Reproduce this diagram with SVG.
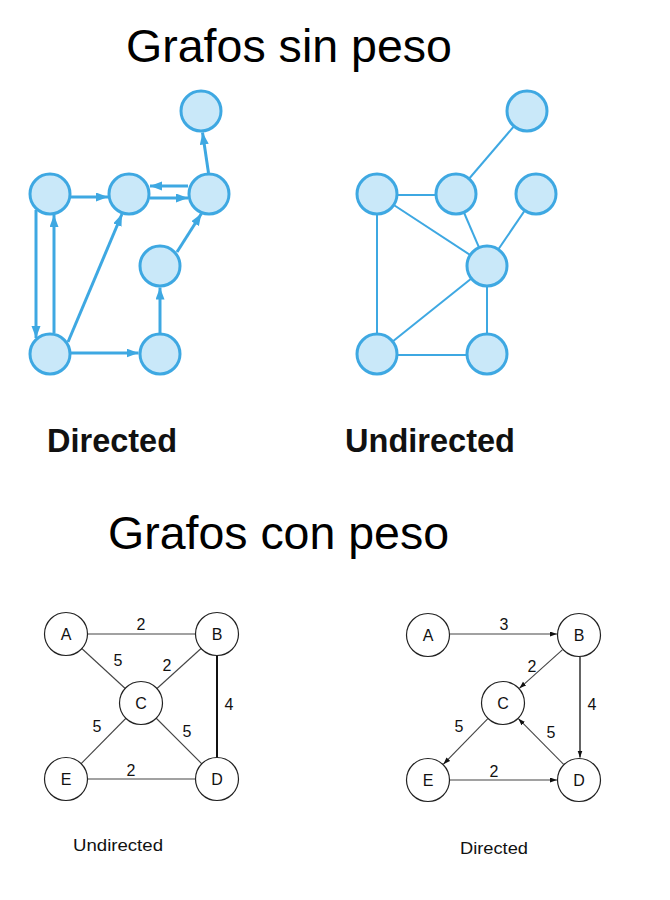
<svg xmlns="http://www.w3.org/2000/svg" width="670" height="900" viewBox="0 0 670 900">
<style>
.title{font-family:"Liberation Sans",Arial,sans-serif;font-size:47px;fill:#000}
.sub{font-family:"Liberation Sans",Arial,sans-serif;font-size:33px;font-weight:bold;fill:#111}
.small{font-family:"Liberation Sans",Arial,sans-serif;font-size:17px;fill:#111}
.bn{fill:#c9e8f9;stroke:#3ea8e2;stroke-width:3}
.be{stroke:#3ea8e2;stroke-width:3;fill:none}
.bu{stroke:#3ea8e2;stroke-width:2;fill:none}
.wn{fill:#fff;stroke:#222;stroke-width:1.2}
.we{stroke:#444;stroke-width:1.1;fill:none}
.lbl{font-family:"Liberation Sans",Arial,sans-serif;font-size:16px;fill:#111;text-anchor:middle}
.nl{font-family:"Liberation Sans",Arial,sans-serif;font-size:16px;fill:#111;text-anchor:middle}
</style>
<defs>
<marker id="ab" markerUnits="userSpaceOnUse" markerWidth="13" markerHeight="10" refX="12" refY="4.5" orient="auto" viewBox="0 0 13 10">
<path d="M0,0 L12,4.5 L0,9 z" fill="#3ea8e2"/>
</marker>
<marker id="ak" markerUnits="userSpaceOnUse" markerWidth="8" markerHeight="6" refX="7" refY="2.5" orient="auto" viewBox="0 0 8 6">
<path d="M0,0 L7,2.5 L0,5 z" fill="#111"/>
</marker>
</defs>
<rect width="670" height="900" fill="#fff"/>

<text class="title" x="126" y="62" textLength="326" lengthAdjust="spacingAndGlyphs">Grafos sin peso</text>
<text class="sub" x="47" y="452" textLength="130" lengthAdjust="spacingAndGlyphs">Directed</text>
<text class="sub" x="345" y="452" textLength="170" lengthAdjust="spacingAndGlyphs">Undirected</text>
<text class="title" x="108" y="549" textLength="341" lengthAdjust="spacingAndGlyphs">Grafos con peso</text>
<text class="small" x="73" y="851" textLength="90" lengthAdjust="spacingAndGlyphs">Undirected</text>
<text class="small" x="460" y="854" textLength="68" lengthAdjust="spacingAndGlyphs">Directed</text>

<!-- Directed unweighted connectors -->
<g id="connectors-directed">
<line class="be" x1="71" y1="197" x2="108" y2="197" marker-end="url(#ab)"/>
<line class="be" x1="150" y1="198" x2="188" y2="198" marker-end="url(#ab)"/>
<line class="be" x1="188" y1="186" x2="150" y2="186" marker-end="url(#ab)"/>
<line class="be" x1="208.5" y1="173" x2="202.5" y2="132.5" marker-end="url(#ab)"/>
<line class="be" x1="36" y1="210" x2="36" y2="338" marker-end="url(#ab)"/>
<line class="be" x1="54" y1="333" x2="54" y2="215" marker-end="url(#ab)"/>
<line class="be" x1="68" y1="342" x2="122" y2="214" marker-end="url(#ab)"/>
<line class="be" x1="71" y1="353" x2="138.5" y2="353" marker-end="url(#ab)"/>
<line class="be" x1="160" y1="333" x2="160" y2="287.5" marker-end="url(#ab)"/>
<line class="be" x1="177" y1="252" x2="201.5" y2="213.5" marker-end="url(#ab)"/>
</g>
<g id="d1"><circle class="bn" cx="201" cy="111" r="20"/></g>
<g id="d2"><circle class="bn" cx="50" cy="194" r="20"/></g>
<g id="d3"><circle class="bn" cx="129" cy="194" r="20"/></g>
<g id="d4"><circle class="bn" cx="209" cy="194" r="20"/></g>
<g id="d5"><circle class="bn" cx="160" cy="266" r="20"/></g>
<g id="d6"><circle class="bn" cx="50" cy="354" r="20"/></g>
<g id="d7"><circle class="bn" cx="160" cy="354" r="20"/></g>

<!-- Undirected unweighted connectors -->
<g id="connectors-undirected">
<line class="bu" x1="377" y1="195" x2="456" y2="195"/>
<line class="bu" x1="456" y1="194" x2="527" y2="111"/>
<line class="bu" x1="456" y1="194" x2="487" y2="266"/>
<line class="bu" x1="536" y1="194" x2="487" y2="266"/>
<line class="bu" x1="377" y1="194" x2="487" y2="266"/>
<line class="bu" x1="377" y1="194" x2="377" y2="354"/>
<line class="bu" x1="487" y1="266" x2="377" y2="354"/>
<line class="bu" x1="487" y1="266" x2="487" y2="354"/>
<line class="bu" x1="377" y1="355" x2="487" y2="355"/>
</g>
<g id="u1"><circle class="bn" cx="527" cy="111" r="20"/></g>
<g id="u2"><circle class="bn" cx="377" cy="194" r="20"/></g>
<g id="u3"><circle class="bn" cx="456" cy="194" r="20"/></g>
<g id="u4"><circle class="bn" cx="536" cy="194" r="20"/></g>
<g id="u5"><circle class="bn" cx="487" cy="266" r="20"/></g>
<g id="u6"><circle class="bn" cx="377" cy="354" r="20"/></g>
<g id="u7"><circle class="bn" cx="487" cy="354" r="20"/></g>

<!-- Weighted undirected -->
<g id="connectors-weighted-undirected">
<line class="we" x1="66" y1="634" x2="217" y2="634"/>
<line class="we" x1="66" y1="634" x2="141" y2="703"/>
<line class="we" x1="217" y1="634" x2="141" y2="703"/>
<line stroke="#111" stroke-width="2" x1="217" y1="634" x2="217" y2="779"/>
<line class="we" x1="141" y1="703" x2="66" y2="779"/>
<line class="we" x1="141" y1="703" x2="217" y2="779"/>
<line class="we" x1="66" y1="779" x2="217" y2="779"/>
<text class="lbl" x="141" y="630">2</text>
<text class="lbl" x="118" y="666">5</text>
<text class="lbl" x="167" y="671">2</text>
<text class="lbl" x="229" y="710">4</text>
<text class="lbl" x="97" y="732">5</text>
<text class="lbl" x="187" y="737">5</text>
<text class="lbl" x="131" y="776">2</text>
</g>
<g id="wuA"><circle class="wn" cx="66" cy="634" r="21.5"/><text class="nl" x="66" y="640">A</text></g>
<g id="wuB"><circle class="wn" cx="217" cy="634" r="21.5"/><text class="nl" x="217" y="640">B</text></g>
<g id="wuC"><circle class="wn" cx="141" cy="703" r="21.5"/><text class="nl" x="141" y="709">C</text></g>
<g id="wuE"><circle class="wn" cx="66" cy="779" r="21.5"/><text class="nl" x="66" y="785">E</text></g>
<g id="wuD"><circle class="wn" cx="217" cy="779" r="21.5"/><text class="nl" x="217" y="785">D</text></g>

<!-- Weighted directed -->
<g id="connectors-weighted-directed">
<line class="we" x1="450" y1="634" x2="557" y2="634" marker-end="url(#ak)"/>
<line class="we" x1="562.6" y1="649.7" x2="519.4" y2="688.3" marker-end="url(#ak)"/>
<line stroke="#111" stroke-width="1.3" x1="580" y1="657" x2="580" y2="757.5" marker-end="url(#ak)"/>
<line class="we" x1="487.6" y1="718.8" x2="443.4" y2="764.2" marker-end="url(#ak)"/>
<line class="we" x1="450" y1="780" x2="557" y2="780" marker-end="url(#ak)"/>
<line class="we" x1="563.6" y1="764.3" x2="518.4" y2="718.7" marker-end="url(#ak)"/>
<text class="lbl" x="504" y="630">3</text>
<text class="lbl" x="532" y="672">2</text>
<text class="lbl" x="592" y="710">4</text>
<text class="lbl" x="459" y="732">5</text>
<text class="lbl" x="551" y="738">5</text>
<text class="lbl" x="494" y="777">2</text>
</g>
<g id="wdA"><circle class="wn" cx="428" cy="635" r="21.5"/><text class="nl" x="428" y="641">A</text></g>
<g id="wdB"><circle class="wn" cx="579" cy="635" r="21.5"/><text class="nl" x="579" y="641">B</text></g>
<g id="wdC"><circle class="wn" cx="503" cy="703" r="21.5"/><text class="nl" x="503" y="709">C</text></g>
<g id="wdE"><circle class="wn" cx="428" cy="780" r="21.5"/><text class="nl" x="428" y="786">E</text></g>
<g id="wdD"><circle class="wn" cx="579" cy="780" r="21.5"/><text class="nl" x="579" y="786">D</text></g>
</svg>
